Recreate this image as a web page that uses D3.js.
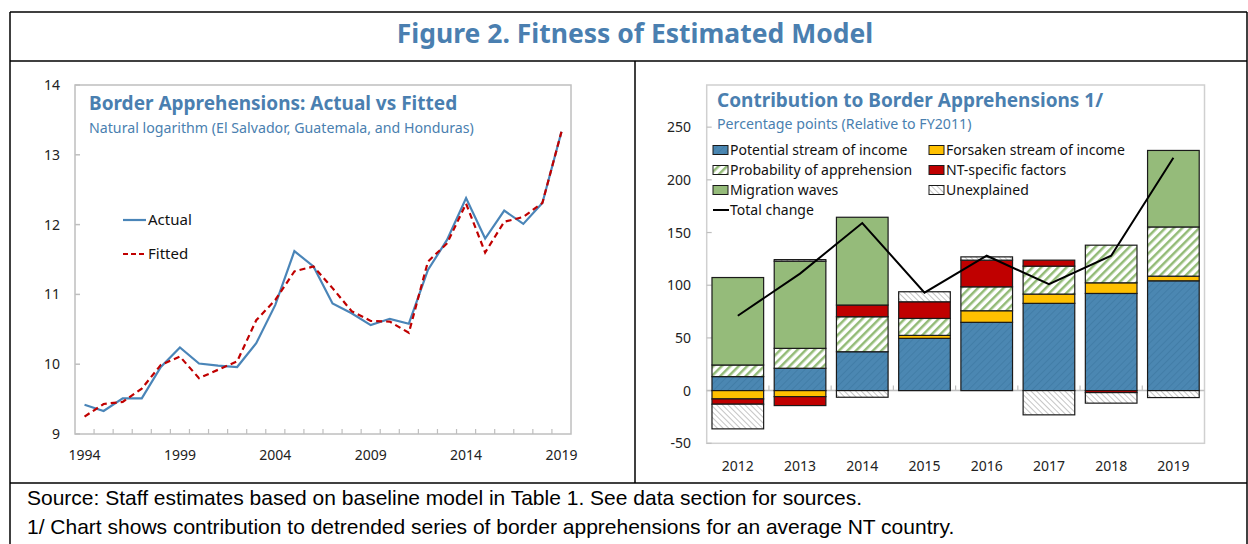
<!DOCTYPE html>
<html>
<head>
<meta charset="utf-8">
<script src="https://cdn.jsdelivr.net/npm/d3@7"></script>
<style>
  body { margin: 0; background: #fff; }
  svg { display: block; }
  text { font-family: "Noto Sans", "Open Sans", sans-serif; }
</style>
</head>
<body>
<svg width="1248" height="544"></svg>
<script>
// ---- data: left panel (natural log of apprehensions) ----
var years = d3.range(1994, 2020);
var actual = [9.42, 9.33, 9.51, 9.51, 9.96, 10.24, 10.01, 9.98, 9.96, 10.30, 10.85, 11.62, 11.40,
              10.87, 10.73, 10.56, 10.65, 10.58, 11.35, 11.78, 12.38, 11.80, 12.20, 12.01, 12.31, 13.33];
var fitted = [9.25, 9.43, 9.46, 9.65, 9.99, 10.11, 9.80, 9.92, 10.04, 10.63, 10.92, 11.33, 11.40,
              11.09, 10.76, 10.62, 10.61, 10.45, 11.47, 11.73, 12.30, 11.60, 12.04, 12.11, 12.31, 13.33];
var leftTicks = [9, 10, 11, 12, 13, 14];

// ---- data: right panel (percentage points, relative to FY2011) ----
var years2 = [2012, 2013, 2014, 2015, 2016, 2017, 2018, 2019];
var potential   = [13.3, 21.2, 36.9, 49.6, 64.8, 82.8, 92.2, 104.2];
var forsaken    = [-7.9, -5.7, 0, 2.8, 11.0, 8.8, 10.1, 4.4];
var probability = [11.0, 18.9, 33.2, 16.1, 22.7, 26.5, 35.7, 46.7];
var ntSpecific  = [-5.0, -8.5, 11.1, 15.8, 25.3, 5.7, -1.9, 0];
var migration   = [83.0, 82.7, 83.3, 0, 0, 0, 0, 72.6];
var unexplained = [-23.4, 1.5, -6.3, 9.5, 3.1, -23.0, -10.0, -6.6];
var totalChange = [71, 111, 159, 93, 128, 101, 128, 221];
var rightTicks = [-50, 0, 50, 100, 150, 200, 250];

var keys = ["potential", "forsaken", "probability", "nt", "migration", "unexplained"];
var labels = {
  potential: "Potential stream of income",
  forsaken: "Forsaken stream of income",
  probability: "Probability of apprehension",
  nt: "NT-specific factors",
  migration: "Migration waves",
  unexplained: "Unexplained"
};

var svg = d3.select("svg");
var titleBlue = "#4a7fb0";

// ---- patterns ----
var defs = svg.append("defs");
var pBlue = defs.append("pattern").attr("id", "pBlue").attr("patternUnits", "userSpaceOnUse")
  .attr("width", 5).attr("height", 5).attr("patternTransform", "rotate(45)");
pBlue.append("rect").attr("width", 5).attr("height", 5).attr("fill", "#4b87b2");
pBlue.append("line").attr("x1", 0).attr("y1", 0).attr("x2", 0).attr("y2", 5)
  .attr("stroke", "#3f7aa4").attr("stroke-width", 1.5);

var pProb = defs.append("pattern").attr("id", "pProb").attr("patternUnits", "userSpaceOnUse")
  .attr("width", 6).attr("height", 6).attr("patternTransform", "rotate(45)");
pProb.append("rect").attr("width", 6).attr("height", 6).attr("fill", "#fff");
pProb.append("line").attr("x1", 0).attr("y1", 0).attr("x2", 0).attr("y2", 6)
  .attr("stroke", "#93bb77").attr("stroke-width", 5);

var pUnex = defs.append("pattern").attr("id", "pUnex").attr("patternUnits", "userSpaceOnUse")
  .attr("width", 4).attr("height", 4).attr("patternTransform", "rotate(-45)");
pUnex.append("rect").attr("width", 4).attr("height", 4).attr("fill", "#fff");
pUnex.append("line").attr("x1", 0).attr("y1", 0).attr("x2", 0).attr("y2", 4)
  .attr("stroke", "#a6a6a6").attr("stroke-width", 1.3);

var fills = {
  potential: "url(#pBlue)",
  forsaken: "#ffc000",
  probability: "url(#pProb)",
  nt: "#c00000",
  migration: "#95bb7a",
  unexplained: "url(#pUnex)"
};

// ---- outer frame ----
var frame = svg.append("g").attr("stroke", "#000").attr("stroke-width", 1.5).attr("fill", "none");
frame.append("line").attr("x1", 10).attr("x2", 1247).attr("y1", 12).attr("y2", 12);
frame.append("line").attr("x1", 10).attr("x2", 10).attr("y1", 12).attr("y2", 544);
frame.append("line").attr("x1", 1247).attr("x2", 1247).attr("y1", 12).attr("y2", 544);
frame.append("line").attr("x1", 10).attr("x2", 1247).attr("y1", 61).attr("y2", 61);
frame.append("line").attr("x1", 10).attr("x2", 1247).attr("y1", 483).attr("y2", 483);
frame.append("line").attr("x1", 635).attr("x2", 635).attr("y1", 61).attr("y2", 483);

svg.append("text").attr("x", 635).attr("y", 43).attr("text-anchor", "middle")
  .attr("font-size", 26.5).attr("font-weight", "bold").attr("fill", titleBlue)
  .text("Figure 2. Fitness of Estimated Model");

svg.append("text").attr("x", 27).attr("y", 505).attr("font-size", 21)
  .style("font-family", "'Liberation Sans', Arial, sans-serif").attr("fill", "#000")
  .text("Source: Staff estimates based on baseline model in Table 1. See data section for sources.");
svg.append("text").attr("x", 27).attr("y", 534).attr("font-size", 21)
  .style("font-family", "'Liberation Sans', Arial, sans-serif").attr("fill", "#000")
  .text("1/ Chart shows contribution to detrended series of border apprehensions for an average NT country.");

// ================= LEFT PANEL =================
var x = d3.scaleBand().domain(years).range([75, 571]);
var y = d3.scaleLinear().domain([9, 14]).range([434, 85]);
var left = svg.append("g");

left.append("rect").attr("x", 75).attr("y", 85).attr("width", 496).attr("height", 349)
  .attr("fill", "none").attr("stroke", "#bfbfbf").attr("stroke-width", 1.5);

// y ticks (inside) and labels
left.selectAll(".ytk").data(leftTicks).enter().append("line")
  .attr("x1", 75).attr("x2", 80).attr("y1", function(d) { return y(d); }).attr("y2", function(d) { return y(d); })
  .attr("stroke", "#bfbfbf").attr("stroke-width", 1.5);
left.selectAll(".ylb").data(leftTicks).enter().append("text")
  .attr("x", 60).attr("y", function(d) { return y(d) + 5; }).attr("text-anchor", "end")
  .attr("font-size", 14).attr("fill", "#222").text(function(d) { return d; });

// x ticks at category boundaries
left.selectAll(".xtk").data(years.slice(1)).enter().append("line")
  .attr("x1", function(d) { return x(d); }).attr("x2", function(d) { return x(d); })
  .attr("y1", 434).attr("y2", 429).attr("stroke", "#bfbfbf").attr("stroke-width", 1.2);
left.selectAll(".xlb").data(years.filter(function(d) { return (d - 1994) % 5 == 0; })).enter().append("text")
  .attr("x", function(d) { return x(d) + x.bandwidth() / 2; }).attr("y", 460)
  .attr("text-anchor", "middle").attr("font-size", 14).attr("fill", "#222").text(function(d) { return d; });

var line = d3.line()
  .x(function(d, i) { return x(years[i]) + x.bandwidth() / 2; })
  .y(function(d) { return y(d); });

left.append("path").datum(actual).attr("d", line).attr("fill", "none")
  .attr("stroke", "#4a85b8").attr("stroke-width", 2.2);
left.append("path").datum(fitted).attr("d", line).attr("fill", "none")
  .attr("stroke", "#c00000").attr("stroke-width", 2.2).attr("stroke-dasharray", "6,4");

left.append("text").attr("x", 89).attr("y", 110).attr("font-size", 19).attr("font-weight", "bold")
  .attr("fill", titleBlue).text("Border Apprehensions: Actual vs Fitted");
left.append("text").attr("x", 89).attr("y", 133).attr("font-size", 14.2)
  .attr("fill", titleBlue).text("Natural logarithm (El Salvador, Guatemala, and Honduras)");

// legend
left.append("line").attr("x1", 123).attr("x2", 146).attr("y1", 220).attr("y2", 220)
  .attr("stroke", "#4a85b8").attr("stroke-width", 2.2);
left.append("text").attr("x", 148).attr("y", 225).attr("font-size", 15).attr("fill", "#111").text("Actual");
left.append("line").attr("x1", 123).attr("x2", 146).attr("y1", 254).attr("y2", 254)
  .attr("stroke", "#c00000").attr("stroke-width", 2.2).attr("stroke-dasharray", "5,3");
left.append("text").attr("x", 148).attr("y", 259).attr("font-size", 15).attr("fill", "#111").text("Fitted");

// ================= RIGHT PANEL =================
var rows = years2.map(function(yr, i) {
  return { year: yr, potential: potential[i], forsaken: forsaken[i], probability: probability[i],
           nt: ntSpecific[i], migration: migration[i], unexplained: unexplained[i], total: totalChange[i] };
});

var xb = d3.scaleBand().domain(years2).range([706.7, 1204.5]).paddingInner(0.17).paddingOuter(0.085);
var yb = d3.scaleLinear().domain([-50, 290]).range([443.3, 85]);
var right = svg.append("g");

right.append("rect").attr("x", 706.7).attr("y", 85).attr("width", 1204.5 - 706.7).attr("height", 443.3 - 85)
  .attr("fill", "none").attr("stroke", "#d0d0d0").attr("stroke-width", 1.5);

right.selectAll(".ytk").data(rightTicks).enter().append("line")
  .attr("x1", 706.7).attr("x2", 711.7).attr("y1", function(d) { return yb(d); }).attr("y2", function(d) { return yb(d); })
  .attr("stroke", "#bfbfbf").attr("stroke-width", 1.2);
right.selectAll(".ylb").data(rightTicks).enter().append("text")
  .attr("x", 691).attr("y", function(d) { return yb(d) + 5; }).attr("text-anchor", "end")
  .attr("font-size", 14).attr("fill", "#222").text(function(d) { return d; });

// zero axis with ticks
right.append("line").attr("x1", 706.7).attr("x2", 1204.5).attr("y1", yb(0)).attr("y2", yb(0))
  .attr("stroke", "#bfbfbf").attr("stroke-width", 1.5);
right.selectAll(".xtk").data(years2.slice(1)).enter().append("line")
  .attr("x1", function(d) { return xb(d) - xb.step() * 0.085; }).attr("x2", function(d) { return xb(d) - xb.step() * 0.085; })
  .attr("y1", yb(0)).attr("y2", yb(0) - 5).attr("stroke", "#bfbfbf").attr("stroke-width", 1.2);
right.selectAll(".xlb").data(years2).enter().append("text")
  .attr("x", function(d) { return xb(d) + xb.bandwidth() / 2; }).attr("y", 471)
  .attr("text-anchor", "middle").attr("font-size", 14).attr("fill", "#222").text(function(d) { return d; });

var stacked = d3.stack().keys(keys).offset(d3.stackOffsetDiverging)(rows);

right.selectAll(".series").data(stacked).enter().append("g")
  .attr("fill", function(s) { return fills[s.key]; })
  .selectAll("rect").data(function(s) { return s.filter(function(d) { return d[1] - d[0] != 0; }); })
  .enter().append("rect")
  .attr("x", function(d) { return xb(d.data.year); })
  .attr("width", xb.bandwidth())
  .attr("y", function(d) { return yb(d[1]); })
  .attr("height", function(d) { return yb(d[0]) - yb(d[1]); })
  .attr("stroke", "#1a1a1a").attr("stroke-width", 1.2);

var totalLine = d3.line()
  .x(function(d) { return xb(d.year) + xb.bandwidth() / 2; })
  .y(function(d) { return yb(d.total); });
right.append("path").datum(rows).attr("d", totalLine).attr("fill", "none")
  .attr("stroke", "#000").attr("stroke-width", 2);

right.append("text").attr("x", 717).attr("y", 107).attr("font-size", 19).attr("font-weight", "bold")
  .attr("fill", titleBlue).text("Contribution to Border Apprehensions 1/");
right.append("text").attr("x", 717).attr("y", 129).attr("font-size", 14.2)
  .attr("fill", titleBlue).text("Percentage points (Relative to FY2011)");

// legend
var legendItems = [
  { key: "potential", col: 0, row: 0 }, { key: "forsaken", col: 1, row: 0 },
  { key: "probability", col: 0, row: 1 }, { key: "nt", col: 1, row: 1 },
  { key: "migration", col: 0, row: 2 }, { key: "unexplained", col: 1, row: 2 }
];
var legX = [713, 929];
var lg = right.selectAll(".leg").data(legendItems).enter().append("g")
  .attr("transform", function(d) { return "translate(" + legX[d.col] + "," + (150 + d.row * 20) + ")"; });
lg.append("rect").attr("x", 0).attr("y", -4.5).attr("width", 15).attr("height", 9)
  .attr("fill", function(d) { return fills[d.key]; }).attr("stroke", "#1a1a1a").attr("stroke-width", 1);
lg.append("text").attr("x", 17).attr("y", 5).attr("font-size", 14).attr("fill", "#111")
  .text(function(d) { return labels[d.key]; });

right.append("line").attr("x1", 713).attr("x2", 729).attr("y1", 210).attr("y2", 210)
  .attr("stroke", "#000").attr("stroke-width", 2);
right.append("text").attr("x", 730).attr("y", 215).attr("font-size", 14).attr("fill", "#111").text("Total change");
</script>
</body>
</html>
